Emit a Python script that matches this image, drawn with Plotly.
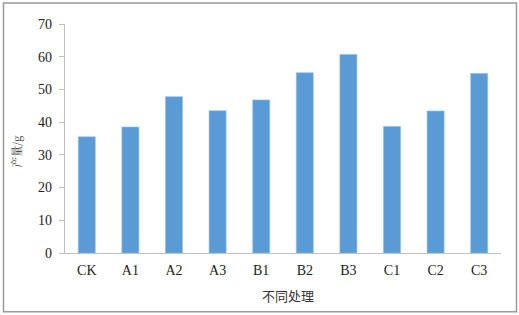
import plotly.graph_objects as go

categories = ["CK", "A1", "A2", "A3", "B1", "B2", "B3", "C1", "C2", "C3"]
yield_g = [35.5, 38.5, 47.8, 43.5, 46.8, 55.1, 60.7, 38.7, 43.4, 54.9]
y_ticks = [0, 10, 20, 30, 40, 50, 60, 70]

W, H = 519, 315
L, R, T, B = 65, 18, 24, 61.5
pw, ph = W - L - R, H - T - B

def px(x):
    return (x - L) / pw

def py(y):
    return (H - B - y) / ph

fig = go.Figure(go.Bar(
    x=categories, y=yield_g,
    marker=dict(color="#5B9BD5", line=dict(color="#8FBCE6", width=0.6)),
    width=0.39,
))

serif = "Liberation Serif, Times New Roman, serif"
fig.update_layout(
    width=W, height=H,
    margin=dict(l=L, r=R, t=T, b=B, pad=0),
    plot_bgcolor="white", paper_bgcolor="white",
    showlegend=False,
    font=dict(family=serif, size=14, color="#222"),
    xaxis=dict(showline=True, linecolor="#BFBFBF", linewidth=1.3, ticks="",
               showgrid=False, tickfont=dict(family=serif, size=14, color="#222"),
               ticklabelstandoff=4),
    yaxis=dict(range=[0, 70], tickvals=y_ticks, showline=True, linecolor="#BFBFBF",
               linewidth=1.3, ticks="outside", ticklen=5, tickcolor="#BFBFBF",
               showgrid=False, zeroline=False,
               tickfont=dict(family=serif, size=14, color="#222"),
               ticklabelstandoff=4),
    shapes=[dict(type="rect", xref="paper", yref="paper",
                 x0=px(3.5), x1=px(516.5), y0=py(3), y1=py(312.5),
                 line=dict(color="#9A9A9A", width=1.5), fillcolor="rgba(0,0,0,0)",
                 layer="below")],
    annotations=[
        dict(text="不同处理", xref="paper", yref="paper", x=px(287.5), y=py(296),
             showarrow=False, xanchor="center", yanchor="middle",
             font=dict(family="Noto Sans CJK SC", size=13, color="#333")),
        dict(text="产量/g", xref="paper", yref="paper", x=px(16), y=py(152),
             showarrow=False, xanchor="center", yanchor="middle", textangle=-90,
             font=dict(family="Noto Serif CJK SC, Noto Sans CJK SC", size=11, color="#333")),
    ],
)

fig.write_html("out.html", config={"displayModeBar": False},
               post_script="document.body.style.margin='0';document.body.style.padding='0';")
